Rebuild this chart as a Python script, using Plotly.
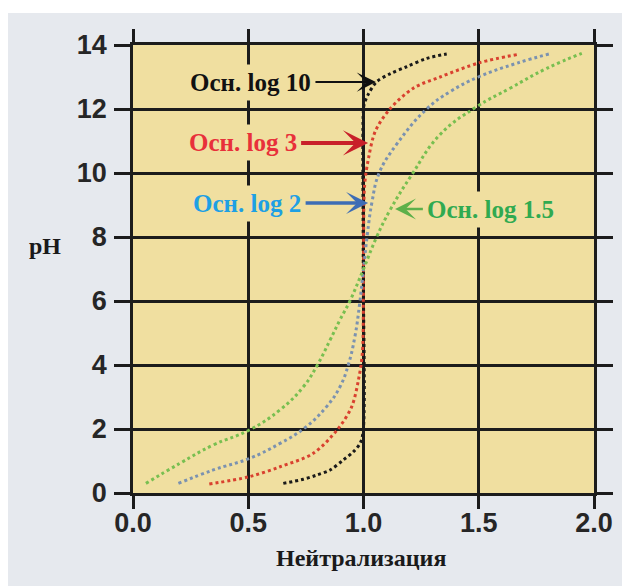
import plotly.graph_objects as go

# ---- data ----
x_log10 = [0.652, 0.739, 0.797, 0.855, 0.912, 0.956, 0.985, 0.998, 0.999, 0.999, 1.003, 1.02, 1.057, 1.115, 1.187, 1.274, 1.361]
ph_log10 = [0.30, 0.43, 0.56, 0.72, 1.03, 1.29, 1.55, 1.9, 7.0, 11.9, 12.15, 12.45, 12.85, 13.1, 13.32, 13.58, 13.72]

x_log3 = [0.331, 0.505, 0.638, 0.782, 0.891, 0.949, 0.978, 0.995, 1.0, 1.005, 1.022, 1.051, 1.112, 1.216, 1.332, 1.505, 1.665]
ph_log3 = [0.28, 0.51, 0.82, 1.24, 2.02, 2.7, 3.53, 4.37, 7.0, 9.63, 10.47, 11.3, 11.98, 12.65, 13.0, 13.45, 13.7]

x_log2 = [0.197, 0.348, 0.505, 0.638, 0.746, 0.84, 0.898, 0.934, 0.963, 0.983, 1.0, 1.017, 1.037, 1.068, 1.144, 1.274, 1.375, 1.498, 1.665, 1.816]
ph_log2 = [0.30, 0.72, 1.08, 1.55, 2.04, 2.7, 3.32, 4.0, 4.9, 5.9, 7.0, 8.1, 9.1, 10.0, 10.9, 12.0, 12.54, 13.0, 13.43, 13.74]

x_log15 = [0.056, 0.204, 0.348, 0.505, 0.638, 0.739, 0.80, 0.855, 0.897, 0.941, 1.0, 1.057, 1.115, 1.209, 1.332, 1.491, 1.636, 1.795, 1.947]
ph_log15 = [0.30, 0.93, 1.5, 1.97, 2.6, 3.32, 4.0, 4.78, 5.4, 6.0, 7.0, 8.0, 8.84, 9.94, 11.2, 12.07, 12.65, 13.27, 13.74]

x_ticks = [0.0, 0.5, 1.0, 1.5, 2.0]
x_tick_labels = ["0.0", "0.5", "1.0", "1.5", "2.0"]
y_ticks = [0, 2, 4, 6, 8, 10, 12, 14]

labels = ["Осн. log 10", "Осн. log 3", "Осн. log 2", "Осн. log 1.5"]
label_tips_x = [1.054, 1.02, 1.02, 1.137]
label_tips_y = [12.84, 10.94, 9.06, 8.875]

x_title = "Нейтрализация"
y_title = "pH"

# ---- styles ----
TAN = "#F0DFA0"
GRAY = "#E6E9EE"
GRID = "#1c1c1c"

curve_colors = ["#1a1a1a", "#d9412f", "#7b92b0", "#78bf50"]
curve_smoothing = [0.9, 0.9, 1.2, 1.25]
text_colors = ["#111111", "#e8303a", "#1ea0e4", "#30aa50"]
arrow_colors = ["#111111", "#c8202a", "#3d6db5", "#5db04a"]
arrow_widths = [2, 4, 3.5, 2.5]
arrow_sizes = [1.6, 1.05, 1.05, 1.4]
text_dx = [-125.5, -125.5, -121.0, 95.8]

fig = go.Figure()
series = [(x_log10, ph_log10), (x_log3, ph_log3), (x_log2, ph_log2), (x_log15, ph_log15)]
for (xs, ys), c, sm in zip(series, curve_colors, curve_smoothing):
    fig.add_trace(go.Scatter(
        x=xs, y=ys, mode="lines",
        line=dict(color=c, width=3, dash="3px,3px", shape="spline", smoothing=sm),
        showlegend=False, hoverinfo="skip"))

for txt, tx, ty, tc, ac, aw, asz, dx in zip(labels, label_tips_x, label_tips_y, text_colors,
                                             arrow_colors, arrow_widths, arrow_sizes, text_dx):
    fig.add_annotation(
        x=tx, y=ty, xref="x", yref="y", ax=dx, ay=0,
        text=f"<b>{txt}</b>", showarrow=True, arrowhead=3,
        arrowcolor=ac, arrowwidth=aw, arrowsize=asz,
        font=dict(family="Liberation Serif", size=25, color=tc),
        bgcolor=TAN, borderpad=4)

fig.add_annotation(x=-0.1909, y=0.5513, xref="paper", yref="paper", showarrow=False,
                   xanchor="center", yanchor="middle",
                   text=f"<b>{y_title}</b>",
                   font=dict(family="Liberation Serif", size=24, color="#1a1a1a"))
fig.add_annotation(x=0.4946, y=-0.1451, xref="paper", yref="paper", showarrow=False,
                   xanchor="center", yanchor="middle",
                   text=f"<b>{x_title}</b>",
                   font=dict(family="Liberation Serif", size=24, color="#1a1a1a"))

# thin white strip at the top of the gray frame
fig.add_shape(type="rect", xref="paper", yref="paper", x0=-0.30, x1=1.2, y0=1.0714, y1=1.2,
              fillcolor="white", line_width=0, layer="below")

axis_common = dict(showgrid=True, gridcolor=GRID, gridwidth=2.5, zeroline=False,
                   showline=True, linecolor=GRID, linewidth=2.5, mirror="ticks",
                   ticks="outside", tickcolor=GRID, tickwidth=2.5, automargin=False,
                   tickfont=dict(family="Liberation Sans", size=27, color="#262626", weight="bold"))

fig.update_xaxes(range=[0, 2], tickvals=x_ticks, ticktext=x_tick_labels, ticklen=13,
                 ticklabelstandoff=-9, **axis_common)
fig.update_yaxes(range=[0, 14], tickvals=y_ticks, ticklen=16, ticklabelstandoff=2, **axis_common)

fig.update_layout(width=622, height=578, margin=dict(l=125, r=36, t=37, b=93),
                  paper_bgcolor=GRAY, plot_bgcolor=TAN, showlegend=False)

fig.write_html("out.html")
